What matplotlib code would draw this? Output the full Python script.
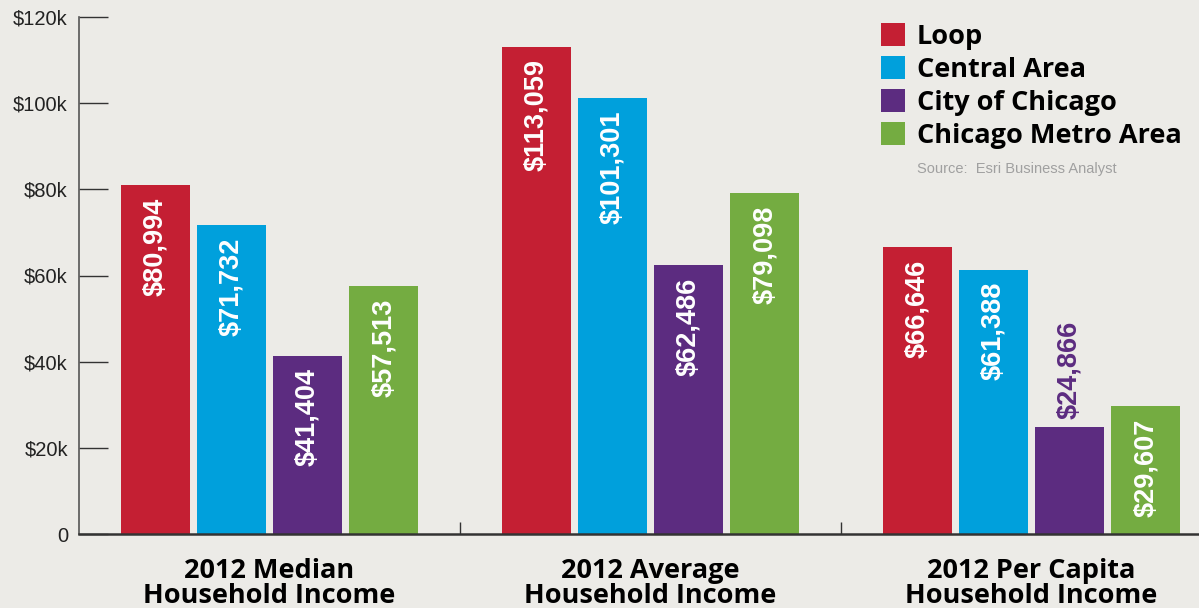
import matplotlib
matplotlib.use('Agg')
import matplotlib.pyplot as plt
from matplotlib.patches import Patch
import numpy as np

categories = ["2012 Median\nHousehold Income",
              "2012 Average\nHousehold Income",
              "2012 Per Capita\nHousehold Income"]
series = ["Loop", "Central Area", "City of Chicago", "Chicago Metro Area"]
values = {
    "Loop": [80994, 113059, 66646],
    "Central Area": [71732, 101301, 61388],
    "City of Chicago": [41404, 62486, 24866],
    "Chicago Metro Area": [57513, 79098, 29607],
}
colors = ['#C41F33', '#00A0DC', '#5C2C80', '#74AC41']
yticks = [0, 20000, 40000, 60000, 80000, 100000, 120000]
ytick_labels = ['0', '$20k', '$40k', '$60k', '$80k', '$100k', '$120k']

BG = '#ECEBE7'
fig = plt.figure(figsize=(11.99, 6.08), dpi=100, facecolor=BG)
ax = fig.add_axes([79 / 1199, 74 / 608, 1 - 79 / 1199, 517 / 608])
ax.set_facecolor(BG)

x = np.arange(len(categories))
width = 0.181
offsets = [-0.3, -0.1, 0.1, 0.3]
label_font = 'Liberation Sans'

for s, off, col in zip(series, offsets, colors):
    vals = values[s]
    ax.bar(x + off, vals, width, color=col, zorder=2)
    for xi, v in zip(x + off, vals):
        txt = f"${v:,}"
        if v < 27000:
            # too short to fit inside, place above in bar colour
            ax.annotate(txt, (xi, v), xytext=(0, 6), textcoords='offset points',
                        rotation=90, ha='center', va='bottom', color=col,
                        fontsize=19.5, fontweight='bold', family=label_font)
        else:
            ax.annotate(txt, (xi, v), xytext=(0, -9), textcoords='offset points',
                        rotation=90, ha='center', va='top', color='white',
                        fontsize=19.5, fontweight='bold', family=label_font)

ax.set_xlim(-0.5, 2.44)
ax.set_ylim(0, 120000)

ax.set_yticks(yticks)
ax.set_yticklabels(ytick_labels, family=label_font, fontsize=14.5, color='#222222')
ax.tick_params(axis='y', direction='in', length=21, width=1.0, color='#333333', pad=8)

ax.set_xticks(x)
ax.set_xticklabels(categories, fontsize=19.5, fontweight='bold', family='Open Sans',
                   linespacing=0.97)
ax.tick_params(axis='x', which='major', length=0, pad=17)
ax.set_xticks([0.5, 1.5], minor=True)
ax.tick_params(axis='x', which='minor', direction='in', length=9, width=1.0, color='#333333')

for side in ['top', 'right']:
    ax.spines[side].set_visible(False)
ax.spines['left'].set_color('#555555')
ax.spines['left'].set_linewidth(1.2)
ax.spines['bottom'].set_color('#333333')
ax.spines['bottom'].set_linewidth(1.8)

handles = [Patch(facecolor=c, edgecolor='none', label=s) for s, c in zip(series, colors)]
leg = ax.legend(handles=handles, loc='upper left', bbox_to_anchor=(802 / 1120, 0.988),
                frameon=False, prop={'family': 'Open Sans', 'weight': 'bold', 'size': 19.5},
                handlelength=0.89, handleheight=0.89, handletextpad=0.44,
                labelspacing=0.24, borderaxespad=0, borderpad=0)

fig.text(917 / 1199, 1 - 169 / 608, "Source:  Esri Business Analyst", fontsize=10.5,
         color='#A0A0A0', family=label_font, va='center', ha='left')

fig.savefig('out.png', dpi=100, facecolor=BG)
